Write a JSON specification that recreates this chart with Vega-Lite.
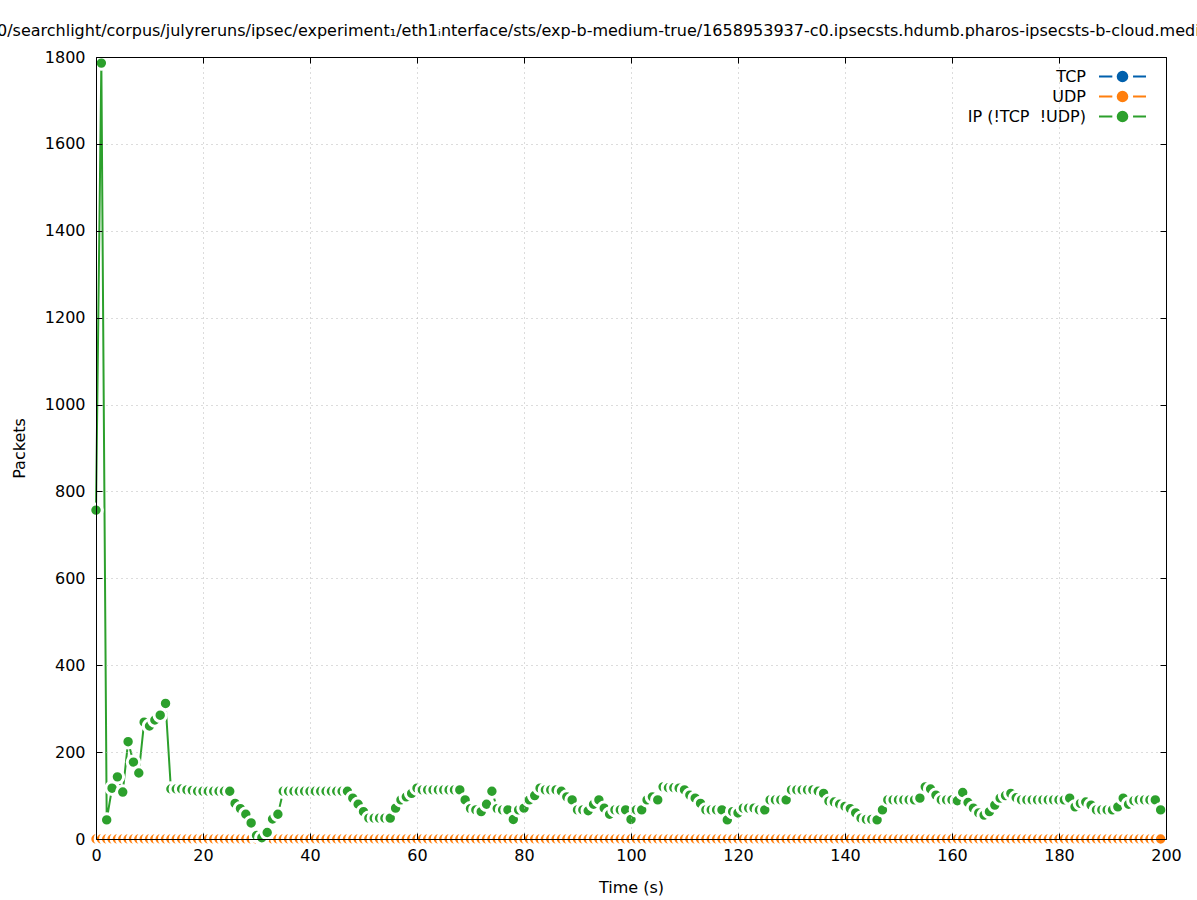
{
"$schema":"https://vega.github.io/schema/vega-lite/v6.json",
"width":1070,"height":782,
"autosize":{"type":"none"},
"padding":{"left":96,"top":57,"right":31,"bottom":61},
"background":"white",
"config":{"font":"DejaVu Sans","view":{"stroke":null}},
"title":{"text":"0/searchlight/corpus/julyreruns/ipsec/experiment₁/eth1ᵢnterface/sts/exp-b-medium-true/1658953937-c0.ipsecsts.hdumb.pharos-ipsecsts-b-cloud.medium","anchor":"start","frame":"group","dx":-99,"fontSize":16,"fontWeight":"normal","color":"black","baseline":"alphabetic","offset":-3,"font":"DejaVu Sans"},
"data":{"values":[
{"t":0,"tcp":0,"udp":0,"ip":757},{"t":1,"tcp":0,"udp":0,"ip":1786},{"t":2,"tcp":0,"udp":0,"ip":44},{"t":3,"tcp":0,"udp":0,"ip":117},{"t":4,"tcp":0,"udp":0,"ip":143},{"t":5,"tcp":0,"udp":0,"ip":108},{"t":6,"tcp":0,"udp":0,"ip":224},{"t":7,"tcp":0,"udp":0,"ip":177},{"t":8,"tcp":0,"udp":0,"ip":152},{"t":9,"tcp":0,"udp":0,"ip":269},
{"t":10,"tcp":0,"udp":0,"ip":260},{"t":11,"tcp":0,"udp":0,"ip":274},{"t":12,"tcp":0,"udp":0,"ip":285},{"t":13,"tcp":0,"udp":0,"ip":312},{"t":14,"tcp":0,"udp":0,"ip":115},{"t":15,"tcp":0,"udp":0,"ip":115},{"t":16,"tcp":0,"udp":0,"ip":115},{"t":17,"tcp":0,"udp":0,"ip":113},{"t":18,"tcp":0,"udp":0,"ip":112},{"t":19,"tcp":0,"udp":0,"ip":110},
{"t":20,"tcp":0,"udp":0,"ip":110},{"t":21,"tcp":0,"udp":0,"ip":110},{"t":22,"tcp":0,"udp":0,"ip":110},{"t":23,"tcp":0,"udp":0,"ip":110},{"t":24,"tcp":0,"udp":0,"ip":110},{"t":25,"tcp":0,"udp":0,"ip":110},{"t":26,"tcp":0,"udp":0,"ip":82},{"t":27,"tcp":0,"udp":0,"ip":70},{"t":28,"tcp":0,"udp":0,"ip":57},{"t":29,"tcp":0,"udp":0,"ip":37},
{"t":30,"tcp":0,"udp":0,"ip":8},{"t":31,"tcp":0,"udp":0,"ip":3},{"t":32,"tcp":0,"udp":0,"ip":15},{"t":33,"tcp":0,"udp":0,"ip":46},{"t":34,"tcp":0,"udp":0,"ip":57},{"t":35,"tcp":0,"udp":0,"ip":110},{"t":36,"tcp":0,"udp":0,"ip":110},{"t":37,"tcp":0,"udp":0,"ip":110},{"t":38,"tcp":0,"udp":0,"ip":110},{"t":39,"tcp":0,"udp":0,"ip":110},
{"t":40,"tcp":0,"udp":0,"ip":110},{"t":41,"tcp":0,"udp":0,"ip":110},{"t":42,"tcp":0,"udp":0,"ip":110},{"t":43,"tcp":0,"udp":0,"ip":110},{"t":44,"tcp":0,"udp":0,"ip":110},{"t":45,"tcp":0,"udp":0,"ip":110},{"t":46,"tcp":0,"udp":0,"ip":110},{"t":47,"tcp":0,"udp":0,"ip":110},{"t":48,"tcp":0,"udp":0,"ip":94},{"t":49,"tcp":0,"udp":0,"ip":80},
{"t":50,"tcp":0,"udp":0,"ip":63},{"t":51,"tcp":0,"udp":0,"ip":48},{"t":52,"tcp":0,"udp":0,"ip":48},{"t":53,"tcp":0,"udp":0,"ip":48},{"t":54,"tcp":0,"udp":0,"ip":48},{"t":55,"tcp":0,"udp":0,"ip":48},{"t":56,"tcp":0,"udp":0,"ip":71},{"t":57,"tcp":0,"udp":0,"ip":90},{"t":58,"tcp":0,"udp":0,"ip":97},{"t":59,"tcp":0,"udp":0,"ip":105},
{"t":60,"tcp":0,"udp":0,"ip":117},{"t":61,"tcp":0,"udp":0,"ip":113},{"t":62,"tcp":0,"udp":0,"ip":113},{"t":63,"tcp":0,"udp":0,"ip":113},{"t":64,"tcp":0,"udp":0,"ip":113},{"t":65,"tcp":0,"udp":0,"ip":113},{"t":66,"tcp":0,"udp":0,"ip":113},{"t":67,"tcp":0,"udp":0,"ip":113},{"t":68,"tcp":0,"udp":0,"ip":113},{"t":69,"tcp":0,"udp":0,"ip":90},
{"t":70,"tcp":0,"udp":0,"ip":70},{"t":71,"tcp":0,"udp":0,"ip":67},{"t":72,"tcp":0,"udp":0,"ip":63},{"t":73,"tcp":0,"udp":0,"ip":80},{"t":74,"tcp":0,"udp":0,"ip":110},{"t":75,"tcp":0,"udp":0,"ip":70},{"t":76,"tcp":0,"udp":0,"ip":67},{"t":77,"tcp":0,"udp":0,"ip":67},{"t":78,"tcp":0,"udp":0,"ip":45},{"t":79,"tcp":0,"udp":0,"ip":67},
{"t":80,"tcp":0,"udp":0,"ip":71},{"t":81,"tcp":0,"udp":0,"ip":90},{"t":82,"tcp":0,"udp":0,"ip":100},{"t":83,"tcp":0,"udp":0,"ip":117},{"t":84,"tcp":0,"udp":0,"ip":113},{"t":85,"tcp":0,"udp":0,"ip":113},{"t":86,"tcp":0,"udp":0,"ip":113},{"t":87,"tcp":0,"udp":0,"ip":110},{"t":88,"tcp":0,"udp":0,"ip":97},{"t":89,"tcp":0,"udp":0,"ip":90},
{"t":90,"tcp":0,"udp":0,"ip":67},{"t":91,"tcp":0,"udp":0,"ip":67},{"t":92,"tcp":0,"udp":0,"ip":65},{"t":93,"tcp":0,"udp":0,"ip":80},{"t":94,"tcp":0,"udp":0,"ip":90},{"t":95,"tcp":0,"udp":0,"ip":71},{"t":96,"tcp":0,"udp":0,"ip":57},{"t":97,"tcp":0,"udp":0,"ip":67},{"t":98,"tcp":0,"udp":0,"ip":67},{"t":99,"tcp":0,"udp":0,"ip":67},
{"t":100,"tcp":0,"udp":0,"ip":45},{"t":101,"tcp":0,"udp":0,"ip":67},{"t":102,"tcp":0,"udp":0,"ip":67},{"t":103,"tcp":0,"udp":0,"ip":90},{"t":104,"tcp":0,"udp":0,"ip":97},{"t":105,"tcp":0,"udp":0,"ip":90},{"t":106,"tcp":0,"udp":0,"ip":120},{"t":107,"tcp":0,"udp":0,"ip":118},{"t":108,"tcp":0,"udp":0,"ip":118},{"t":109,"tcp":0,"udp":0,"ip":117},
{"t":110,"tcp":0,"udp":0,"ip":113},{"t":111,"tcp":0,"udp":0,"ip":101},{"t":112,"tcp":0,"udp":0,"ip":94},{"t":113,"tcp":0,"udp":0,"ip":82},{"t":114,"tcp":0,"udp":0,"ip":67},{"t":115,"tcp":0,"udp":0,"ip":67},{"t":116,"tcp":0,"udp":0,"ip":67},{"t":117,"tcp":0,"udp":0,"ip":67},{"t":118,"tcp":0,"udp":0,"ip":44},{"t":119,"tcp":0,"udp":0,"ip":63},
{"t":120,"tcp":0,"udp":0,"ip":60},{"t":121,"tcp":0,"udp":0,"ip":71},{"t":122,"tcp":0,"udp":0,"ip":71},{"t":123,"tcp":0,"udp":0,"ip":71},{"t":124,"tcp":0,"udp":0,"ip":67},{"t":125,"tcp":0,"udp":0,"ip":67},{"t":126,"tcp":0,"udp":0,"ip":90},{"t":127,"tcp":0,"udp":0,"ip":90},{"t":128,"tcp":0,"udp":0,"ip":90},{"t":129,"tcp":0,"udp":0,"ip":90},
{"t":130,"tcp":0,"udp":0,"ip":113},{"t":131,"tcp":0,"udp":0,"ip":113},{"t":132,"tcp":0,"udp":0,"ip":113},{"t":133,"tcp":0,"udp":0,"ip":113},{"t":134,"tcp":0,"udp":0,"ip":113},{"t":135,"tcp":0,"udp":0,"ip":110},{"t":136,"tcp":0,"udp":0,"ip":105},{"t":137,"tcp":0,"udp":0,"ip":87},{"t":138,"tcp":0,"udp":0,"ip":85},{"t":139,"tcp":0,"udp":0,"ip":80},
{"t":140,"tcp":0,"udp":0,"ip":75},{"t":141,"tcp":0,"udp":0,"ip":70},{"t":142,"tcp":0,"udp":0,"ip":60},{"t":143,"tcp":0,"udp":0,"ip":48},{"t":144,"tcp":0,"udp":0,"ip":45},{"t":145,"tcp":0,"udp":0,"ip":45},{"t":146,"tcp":0,"udp":0,"ip":44},{"t":147,"tcp":0,"udp":0,"ip":67},{"t":148,"tcp":0,"udp":0,"ip":90},{"t":149,"tcp":0,"udp":0,"ip":90},
{"t":150,"tcp":0,"udp":0,"ip":90},{"t":151,"tcp":0,"udp":0,"ip":90},{"t":152,"tcp":0,"udp":0,"ip":90},{"t":153,"tcp":0,"udp":0,"ip":90},{"t":154,"tcp":0,"udp":0,"ip":94},{"t":155,"tcp":0,"udp":0,"ip":120},{"t":156,"tcp":0,"udp":0,"ip":115},{"t":157,"tcp":0,"udp":0,"ip":101},{"t":158,"tcp":0,"udp":0,"ip":90},{"t":159,"tcp":0,"udp":0,"ip":90},
{"t":160,"tcp":0,"udp":0,"ip":90},{"t":161,"tcp":0,"udp":0,"ip":88},{"t":162,"tcp":0,"udp":0,"ip":107},{"t":163,"tcp":0,"udp":0,"ip":84},{"t":164,"tcp":0,"udp":0,"ip":71},{"t":165,"tcp":0,"udp":0,"ip":60},{"t":166,"tcp":0,"udp":0,"ip":55},{"t":167,"tcp":0,"udp":0,"ip":63},{"t":168,"tcp":0,"udp":0,"ip":78},{"t":169,"tcp":0,"udp":0,"ip":94},
{"t":170,"tcp":0,"udp":0,"ip":100},{"t":171,"tcp":0,"udp":0,"ip":105},{"t":172,"tcp":0,"udp":0,"ip":95},{"t":173,"tcp":0,"udp":0,"ip":90},{"t":174,"tcp":0,"udp":0,"ip":90},{"t":175,"tcp":0,"udp":0,"ip":90},{"t":176,"tcp":0,"udp":0,"ip":90},{"t":177,"tcp":0,"udp":0,"ip":90},{"t":178,"tcp":0,"udp":0,"ip":90},{"t":179,"tcp":0,"udp":0,"ip":90},
{"t":180,"tcp":0,"udp":0,"ip":90},{"t":181,"tcp":0,"udp":0,"ip":90},{"t":182,"tcp":0,"udp":0,"ip":94},{"t":183,"tcp":0,"udp":0,"ip":74},{"t":184,"tcp":0,"udp":0,"ip":82},{"t":185,"tcp":0,"udp":0,"ip":85},{"t":186,"tcp":0,"udp":0,"ip":78},{"t":187,"tcp":0,"udp":0,"ip":67},{"t":188,"tcp":0,"udp":0,"ip":67},{"t":189,"tcp":0,"udp":0,"ip":67},
{"t":190,"tcp":0,"udp":0,"ip":67},{"t":191,"tcp":0,"udp":0,"ip":74},{"t":192,"tcp":0,"udp":0,"ip":94},{"t":193,"tcp":0,"udp":0,"ip":80},{"t":194,"tcp":0,"udp":0,"ip":88},{"t":195,"tcp":0,"udp":0,"ip":90},{"t":196,"tcp":0,"udp":0,"ip":90},{"t":197,"tcp":0,"udp":0,"ip":90},{"t":198,"tcp":0,"udp":0,"ip":90},{"t":199,"tcp":0,"udp":0,"ip":67}
]},
"layer":[
{"mark":{"type":"line","strokeWidth":2},
 "encoding":{
  "x":{"field":"t","type":"quantitative","scale":{"domain":[0,200],"nice":false},
   "axis":{"orient":"bottom","values":[0,20,40,60,80,100,120,140,160,180,200],"format":"d","title":"Time (s)","grid":true,"gridDash":[1,4],"gridColor":"#b8b8b8","gridWidth":1,"tickSize":-6,"tickColor":"black","tickWidth":1,"domainColor":"black","domainWidth":1,"labelFontSize":16,"labelColor":"black","labelPadding":14,"labelFlush":false,"labelOverlap":false,"titleFontSize":16,"titleFontWeight":"normal","titleColor":"black","titlePadding":16,"zindex":1}},
  "y":{"field":"tcp","type":"quantitative","scale":{"domain":[0,1800],"nice":false},
   "axis":{"orient":"left","values":[0,200,400,600,800,1000,1200,1400,1600,1800],"format":"d","title":"Packets","grid":true,"gridDash":[1,4],"gridColor":"#b8b8b8","gridWidth":1,"tickSize":-6,"tickColor":"black","tickWidth":1,"domainColor":"black","domainWidth":1,"labelFontSize":16,"labelColor":"black","labelPadding":17,"labelFlush":false,"labelOverlap":false,"titleFontSize":16,"titleFontWeight":"normal","titleColor":"black","titlePadding":17,"zindex":1}},
  "color":{"datum":"TCP","scale":{"domain":["TCP","UDP","IP (!TCP\u00a0\u00a0!UDP)"],"range":["#0060ad","#ff7f0e","#2ca02c"]},
   "legend":{"orient":"none","legendX":1016,"legendY":9,"title":null,"symbolType":"M-2.54,0H-1.1M1.14,0H2.54M-0.52,0A0.52,0.52 0 1,0 0.52,0A0.52,0.52 0 1,0 -0.52,0M-0.33,0A0.33,0.33 0 1,0 0.33,0A0.33,0.33 0 1,0 -0.33,0M-0.13,0A0.13,0.13 0 1,0 0.13,0A0.13,0.13 0 1,0 -0.13,0","symbolSize":342,"symbolStrokeWidth":2,"symbolOpacity":1,"labelAlign":"right","labelOffset":-47,"labelFontSize":16,"labelColor":"black","labelFont":"DejaVu Sans","rowPadding":0,"padding":0}}
 }},
{"mark":{"type":"circle","size":154,"opacity":1,"stroke":"white","strokeWidth":3},
 "encoding":{
  "x":{"field":"t","type":"quantitative","axis":{"orient":"top","values":[0,20,40,60,80,100,120,140,160,180,200],"labels":false,"title":null,"grid":false,"tickSize":-6,"tickColor":"black","tickWidth":1,"domainColor":"black","domainWidth":1,"zindex":1}},
  "y":{"field":"tcp","type":"quantitative","axis":{"orient":"right","values":[0,200,400,600,800,1000,1200,1400,1600,1800],"labels":false,"title":null,"grid":false,"tickSize":-6,"tickColor":"black","tickWidth":1,"domainColor":"black","domainWidth":1,"zindex":1}},
  "fill":{"datum":"TCP","scale":{"domain":["TCP","UDP","IP (!TCP\u00a0\u00a0!UDP)"],"range":["#0060ad","#ff7f0e","#2ca02c"]},"legend":null}
 }},
{"mark":{"type":"line","strokeWidth":2},
 "encoding":{
  "x":{"field":"t","type":"quantitative","axis":null},
  "y":{"field":"udp","type":"quantitative","axis":null},
  "color":{"datum":"UDP"}
 }},
{"mark":{"type":"circle","size":154,"opacity":1,"stroke":"white","strokeWidth":3},
 "encoding":{
  "x":{"field":"t","type":"quantitative","axis":null},
  "y":{"field":"udp","type":"quantitative","axis":null},
  "fill":{"datum":"UDP","legend":null}
 }},
{"mark":{"type":"line","strokeWidth":2},
 "encoding":{
  "x":{"field":"t","type":"quantitative","axis":null},
  "y":{"field":"ip","type":"quantitative","axis":null},
  "color":{"datum":"IP (!TCP\u00a0\u00a0!UDP)"}
 }},
{"mark":{"type":"circle","size":154,"opacity":1,"stroke":"white","strokeWidth":3},
 "encoding":{
  "x":{"field":"t","type":"quantitative","axis":null},
  "y":{"field":"ip","type":"quantitative","axis":null},
  "fill":{"datum":"IP (!TCP\u00a0\u00a0!UDP)","legend":null}
 }}
]
}
